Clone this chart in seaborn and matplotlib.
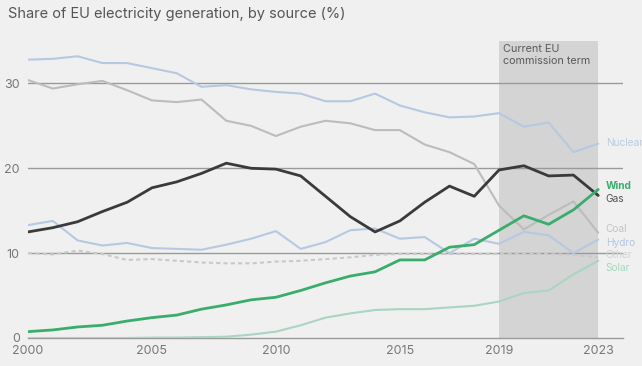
import numpy as np
import pandas as pd
import matplotlib
matplotlib.use("Agg")
import matplotlib.pyplot as plt
import seaborn as sns

years = list(range(2000, 2024))
nuclear = [32.8, 32.9, 33.2, 32.4, 32.4, 31.8, 31.2, 29.6, 29.8, 29.3, 29.0, 28.8,
           27.9, 27.9, 28.8, 27.4, 26.6, 26.0, 26.1, 26.5, 24.9, 25.4, 21.9, 22.9]
coal = [30.4, 29.4, 29.9, 30.3, 29.2, 28.0, 27.8, 28.1, 25.6, 25.0, 23.8, 24.9,
        25.6, 25.3, 24.5, 24.5, 22.8, 21.9, 20.5, 15.6, 12.8, 14.5, 16.1, 12.4]
gas = [12.5, 13.0, 13.7, 14.9, 16.0, 17.7, 18.4, 19.4, 20.6, 20.0, 19.9, 19.1,
       16.7, 14.3, 12.5, 13.8, 16.0, 17.9, 16.7, 19.8, 20.3, 19.1, 19.2, 16.8]
wind = [0.75, 0.95, 1.3, 1.5, 2.0, 2.4, 2.7, 3.4, 3.9, 4.5, 4.8, 5.6,
        6.5, 7.3, 7.8, 9.2, 9.2, 10.7, 11.0, 12.7, 14.4, 13.4, 15.1, 17.5]
hydro = [13.3, 13.8, 11.5, 10.9, 11.2, 10.6, 10.5, 10.4, 11.0, 11.7, 12.6, 10.5,
         11.3, 12.7, 12.9, 11.7, 11.9, 10.0, 11.7, 11.1, 12.5, 12.1, 10.0, 11.6]
other = [10.0, 9.85, 10.3, 9.9, 9.2, 9.3, 9.1, 8.9, 8.8, 8.8, 9.0, 9.1,
         9.3, 9.5, 9.8, 9.9, 9.9, 9.9, 9.9, 9.9, 9.9, 9.9, 9.8, 9.5]
solar = [0.0, 0.0, 0.0, 0.0, 0.0, 0.05, 0.05, 0.1, 0.15, 0.4, 0.75, 1.5,
         2.4, 2.9, 3.3, 3.4, 3.4, 3.6, 3.8, 4.3, 5.3, 5.6, 7.5, 9.1]

sources = ["Nuclear", "Coal", "Hydro", "Other", "Solar", "Gas", "Wind"]
series = {"Nuclear": nuclear, "Coal": coal, "Gas": gas, "Wind": wind,
          "Hydro": hydro, "Other": other, "Solar": solar}
xticks = [2000, 2005, 2010, 2015, 2019, 2023]
yticks = [0, 10, 20, 30]
title = "Share of EU electricity generation, by source (%)"
band_label = "Current EU\ncommission term"

rows = []
for s in sources:
    for y, v in zip(years, series[s]):
        rows.append({"year": y, "share": v, "source": s})
df = pd.DataFrame(rows)

palette = {"Nuclear": "#b7c8e2", "Coal": "#bcbcbc", "Gas": "#3a3a3a",
           "Wind": "#3aac6c", "Hydro": "#b7c8e2", "Other": "#c9c9c9",
           "Solar": "#a9d6c0"}
label_colors = {"Nuclear": "#bccbe4", "Coal": "#c4c4c4", "Gas": "#505050",
                "Wind": "#3aac6c", "Hydro": "#b3c5e2", "Other": "#d2d2d2",
                "Solar": "#a9d6c0"}
dashes = {s: "" for s in sources}
dashes["Other"] = (2, 1.5)
sizes = {s: 1.5 for s in sources}
sizes["Gas"] = 2.0
sizes["Wind"] = 2.0

sns.set_theme(style="white")
plt.rcParams["font.family"] = ["Inter", "DejaVu Sans"]
bg = "#f0f0f0"
fig = plt.figure(figsize=(6.42, 3.66), dpi=100, facecolor=bg)
ax = fig.add_axes([28 / 642, 1 - 338 / 366, (623 - 28) / 642, (338 - 41) / 366])
ax.set_facecolor(bg)

ax.axvspan(2019, 2023, ymin=0, ymax=1, color="#d4d4d4", zorder=0, lw=0)
for yv in [10, 20, 30]:
    ax.axhline(yv, color="#9a9a9a", lw=1.0, zorder=1)

sns.lineplot(data=df, x="year", y="share", hue="source", style="source",
             size="source", palette=palette, dashes=dashes, sizes=sizes,
             hue_order=sources, ax=ax, legend=False, zorder=3)

ax.set_xlim(2000, 2024)
ax.set_ylim(0, 35)
ax.set_xticks(xticks)
ax.set_yticks(yticks)
ax.set_xlabel("")
ax.set_ylabel("")
for sp in ["top", "right", "left"]:
    ax.spines[sp].set_visible(False)
ax.spines["bottom"].set_color("#9a9a9a")
ax.spines["bottom"].set_linewidth(1.0)
ax.tick_params(axis="x", colors="#9a9a9a", length=3, width=1, labelcolor="#777777",
               labelsize=9, pad=2)
ax.tick_params(axis="y", length=0, labelcolor="#777777", labelsize=9, pad=6)

ax.text(2019.15, 34.6, band_label, fontsize=7.8, color="#5a5a5a", va="top",
        ha="left", linespacing=1.15)

label_y = {"Nuclear": 23.0, "Wind": 17.9, "Gas": 16.4, "Coal": 12.8,
           "Hydro": 11.2, "Other": 9.8, "Solar": 8.3}
for s, yv in label_y.items():
    ax.text(2023.3, yv, s, fontsize=7.3, color=label_colors[s], va="center",
            ha="left", fontweight="bold" if s == "Wind" else "normal",
            clip_on=False)

fig.text(8 / 642, 1 - 14 / 366, title, fontsize=10.5, color="#555555",
         va="center", ha="left")

fig.savefig("out.png", dpi=100, facecolor=bg)
